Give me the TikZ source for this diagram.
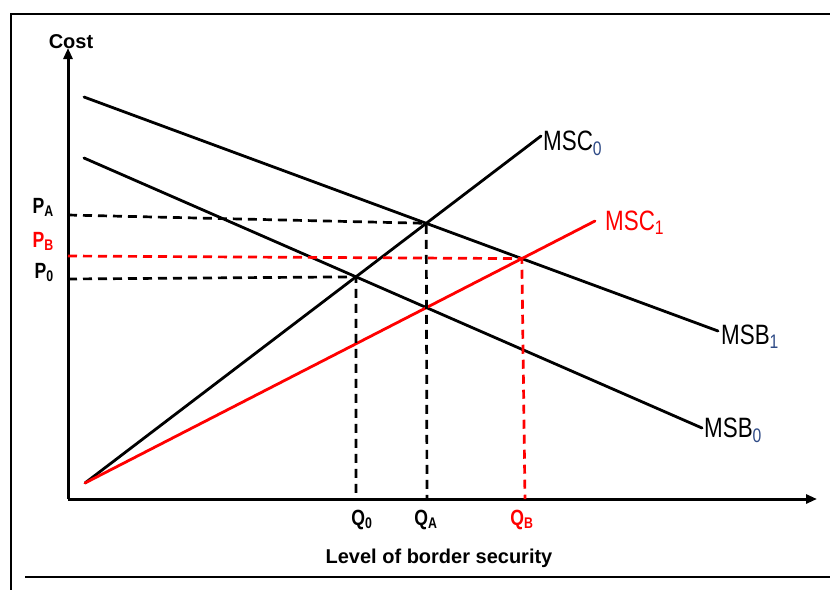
\documentclass[tikz,border=0pt]{standalone}
\usepackage{fontspec}
\setmainfont{Liberation Sans}
\newfontfamily\narrowsans[FakeStretch=0.8]{Liberation Sans}
\newfontfamily\tallsans[FakeStretch=0.8]{Liberation Sans}
\usepackage{tikz}
\usetikzlibrary{
  arrows.meta,
  positioning,
  calc,
}
\definecolor{subblue}{HTML}{2E4A86}
\definecolor{msred}{HTML}{FF0000}

\begin{document}
\begin{tikzpicture}[x=1pt, y=-1pt,
    curve/.style={line width=2.8pt, line cap=round},
    dashline/.style={line width=2.7pt, dash pattern=on 9pt off 6pt},
    axis/.style={line width=3pt, -{Triangle[length=11pt, width=9pt]}},
    frameline/.style={line width=2.8pt},
    title/.style={font=\fontsize{20}{24}\selectfont\bfseries, inner sep=0pt, anchor=base},
    tick/.style={font=\narrowsans\fontsize{22}{24}\selectfont\bfseries, inner sep=0pt},
    curvelabel/.style={font=\tallsans\fontsize{28}{30}\selectfont, inner sep=0pt, anchor=base west},
  ]
  \useasboundingbox (0,0) rectangle (830,590);

  % frame
  \draw[frameline] (830,14) -- (11,14) -- (11,590);
  \draw[frameline] (25,577) -- (830,577);

  % axes
  \coordinate (O) at (68,499);
  \coordinate (ytop) at (68,48);
  \coordinate (xend) at (817,499);
  \draw[axis] (O) -- (ytop);
  \draw[axis] (O) -- (xend);
  \node[title] (cost) at (71,48) {Cost};
  \node[title] (level) at (439,563) {Level of border security};

  % curves
  \coordinate (s) at (85,483);
  \coordinate (c0) at (541,136);
  \coordinate (c1) at (595,221);
  \coordinate (b1s) at (84,97);
  \coordinate (b1e) at (718,331);
  \coordinate (b0s) at (84,158);
  \coordinate (b0e) at (702,428);

  \draw[curve] (b1s) -- (b1e);
  \draw[curve] (b0s) -- (b0e);
  \draw[curve] (s) -- (c0);
  \draw[curve, msred] (s) -- (c1);

  \node[curvelabel] (msc0) at (543,150) {MSC\textsubscript{\color{subblue}0}};
  \node[curvelabel, msred] (msc1) at (605,230) {MSC\textsubscript{1}};
  \node[curvelabel] (msb1) at (721,344) {MSB\textsubscript{\color{subblue}1}};
  \node[curvelabel] (msb0) at (704,437) {MSB\textsubscript{\color{subblue}0}};

  % equilibria
  \coordinate (eA) at (intersection of s--c0 and b1s--b1e);
  \coordinate (eB) at (intersection of s--c1 and b1s--b1e);
  \coordinate (e0) at (intersection of s--c0 and b0s--b0e);

  \coordinate (yA) at (68,215);
  \coordinate (yB) at (68,256);
  \coordinate (y0) at (68,279);
  \coordinate (xA) at (427,499);
  \coordinate (xB) at (525,499);

  \draw[dashline] (yA) -- (eA) -- (xA);
  \draw[dashline] (y0) -- (e0) -- (e0 |- O);
  \draw[dashline, msred] (yB) -- (eB) -- (xB);

  \node[tick, anchor=base east] (pa) at (54,213) {P\textsubscript{A}};
  \node[tick, anchor=base east, msred] (pb) at (54,247) {P\textsubscript{B}};
  \node[tick, anchor=base east] (p0) at (54,278) {P\textsubscript{0}};

  \node[tick, anchor=base] (q0) at (362,525) {Q\textsubscript{0}};
  \node[tick, anchor=base] (qa) at (426,525) {Q\textsubscript{A}};
  \node[tick, anchor=base, msred] (qb) at (522,525) {Q\textsubscript{B}};
\end{tikzpicture}
\end{document}
